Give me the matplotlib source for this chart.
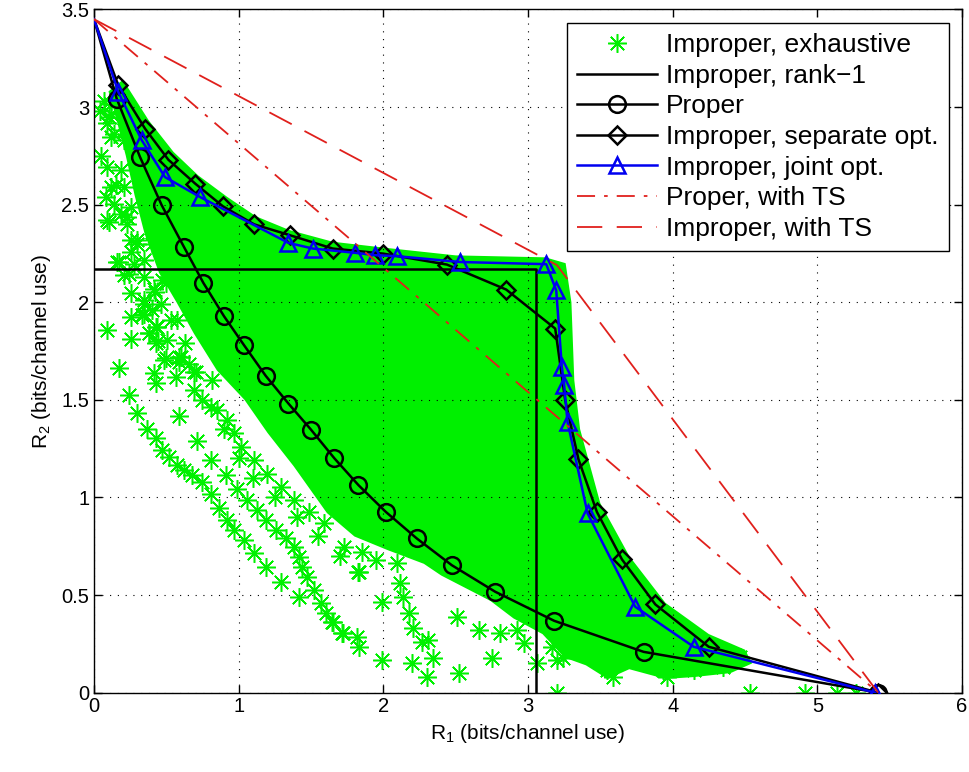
import numpy as np
import matplotlib
matplotlib.use('Agg')
from matplotlib import pyplot as plt
from matplotlib.ticker import FuncFormatter

plt.rcParams['font.family'] = ['Liberation Sans', 'DejaVu Sans']
plt.rcParams['mathtext.fontset'] = 'custom'
plt.rcParams['mathtext.rm'] = 'Liberation Sans'
plt.rcParams['mathtext.default'] = 'regular'

# ---- data ----
# rank-1 corner
rank1_r1 = [0.0, 3.055, 3.055]
rank1_r2 = [2.17, 2.17, 0.0]

# proper
proper_r1 = [0.0, 0.157, 0.318, 0.468, 0.622, 0.756, 0.899, 1.037, 1.187, 1.344, 1.499,
             1.662, 1.828, 2.017, 2.231, 2.473, 2.773, 3.181, 3.799, 5.42]
proper_r2 = [3.45, 3.043, 2.744, 2.497, 2.283, 2.099, 1.928, 1.780, 1.623, 1.481, 1.348,
             1.200, 1.063, 0.926, 0.790, 0.653, 0.517, 0.368, 0.209, 0.0]

# improper, separate opt.
sep_r1 = [0.0, 0.168, 0.353, 0.514, 0.699, 0.890, 1.107, 1.355, 1.650, 2.000, 2.439,
          2.849, 3.188, 3.257, 3.349, 3.476, 3.649, 3.880, 4.249, 5.42]
sep_r2 = [3.45, 3.111, 2.889, 2.730, 2.608, 2.492, 2.399, 2.343, 2.275, 2.249, 2.193,
          2.065, 1.865, 1.498, 1.195, 0.926, 0.683, 0.452, 0.235, 0.0]

# improper, joint opt.
joint_r1 = [0.0, 0.168, 0.330, 0.491, 0.733, 1.344, 1.512, 1.805, 1.943, 2.093, 2.531,
            3.126, 3.195, 3.234, 3.250, 3.273, 3.412, 3.741, 4.145, 5.40]
joint_r2 = [3.45, 3.077, 2.830, 2.641, 2.539, 2.304, 2.275, 2.253, 2.241, 2.236, 2.206,
            2.195, 2.061, 1.669, 1.575, 1.387, 0.918, 0.440, 0.235, 0.0]

# time sharing
pts_r1 = [0.0, 5.42]
pts_r2 = [3.45, 0.0]
its_r1 = [0.0, 3.20, 5.42]
its_r2 = [3.45, 2.19, 0.0]

# exhaustive search: outline of the dense cloud
dense_r1 = [0.10, 0.20, 0.38, 0.55, 0.72, 0.92, 1.12, 1.35, 1.65, 2.00, 2.50, 3.12, 3.26,
            3.30, 3.32, 3.36, 3.50, 3.70, 3.95, 4.25, 4.50, 4.55, 4.40, 4.15, 3.95, 3.70,
            3.55, 3.40, 3.25, 3.10, 2.90, 2.74, 2.40, 2.28, 2.03, 1.80, 1.61, 1.38, 1.20,
            1.04, 0.85, 0.69, 0.57, 0.45, 0.35, 0.28, 0.22, 0.15]
dense_r2 = [3.08, 3.14, 2.93, 2.77, 2.65, 2.54, 2.44, 2.37, 2.31, 2.28, 2.24, 2.23, 2.20,
            2.00, 1.60, 1.35, 0.97, 0.70, 0.46, 0.30, 0.22, 0.15, 0.10, 0.08, 0.07, 0.12,
            0.07, 0.14, 0.18, 0.30, 0.38, 0.47, 0.60, 0.66, 0.73, 0.80, 0.92, 1.16, 1.33,
            1.50, 1.65, 1.84, 2.00, 2.15, 2.35, 2.55, 2.75, 2.95]

# exhaustive search: scattered points around the cloud
exh_r1 = [0.07, 0.115, 0.092, 0.138, 0.207, 0.092, 0.185, 0.081, 0.254, 0.185, 0.092, 0.254,
          0.161, 0.277, 0.207, 0.346, 0.254, 0.346, 0.254, 0.346, 0.092, 0.254, 0.427, 0.53,
          0.173, 0.44, 0.484, 0.60, 0.692, 0.415, 0.04, 0.05, 0.15, 0.30, 0.40, 0.42, 0.50,
          0.104, 0.230, 0.30, 0.254, 0.173, 0.346, 0.242, 0.472, 0.415, 0.461, 0.334, 0.403,
          0.576, 0.38, 0.438, 0.427, 0.507, 0.588, 0.63, 0.657,
          0.115, 0.104, 0.115, 0.207, 0.115, 0.207, 0.138, 0.23,
          0.242, 0.30, 0.369, 0.427, 0.472, 0.519, 0.576, 0.622, 0.680, 0.749, 0.807, 0.865,
          0.922, 0.968, 1.037, 1.107, 1.187, 1.291,
          0.427, 0.588, 0.710, 0.811, 0.911, 0.987, 1.06, 1.13, 1.187, 1.256, 1.325, 1.383,
          1.418, 1.441, 1.475, 1.521, 1.568, 1.602, 1.648, 1.717, 1.821, 1.833, 1.418,
          0.346, 0.38, 0.496, 0.588, 0.565, 0.692, 0.703, 0.818, 0.807, 0.922, 0.968, 1.014,
          1.107, 1.198, 1.291, 1.383, 1.487, 1.59, 1.729, 1.833, 1.994, 1.994,
          0.75, 0.85, 0.90, 1.00, 1.10, 1.25, 1.40, 1.55, 1.70, 1.85, 1.95,
          1.828, 2.197, 2.346, 2.30, 2.52, 2.75, 3.2,
          2.093, 2.116, 2.139, 2.174, 2.208, 2.266, 2.31,
          2.508, 2.658, 2.808, 2.923, 2.969, 3.165, 3.2, 3.062,
          1.655, 1.72, 3.245, 3.545, 3.59, 3.935, 3.96, 4.145, 4.35, 4.468,
          4.537, 4.917, 5.136, 5.27]
exh_r2 = [3.03, 2.966, 2.916, 2.864, 2.83, 2.693, 2.676, 2.539, 2.488, 2.454, 2.42, 2.317,
          2.206, 2.198, 2.138, 2.13, 2.045, 2.01, 1.925, 1.942, 1.857, 1.814, 1.874, 1.908,
          1.661, 1.80, 1.703, 1.72, 1.643, 1.635, 2.98, 2.75, 2.60, 2.30, 2.30, 2.05, 2.10,
          2.411, 2.403, 2.317, 2.258, 2.206, 2.215, 2.147, 2.113, 2.07, 1.993, 1.933, 1.959,
          1.908, 1.84, 1.874, 1.789, 1.805, 1.72, 1.79, 1.686,
          3.018, 2.949, 2.846, 2.881, 2.59, 2.59, 2.505, 2.437,
          1.527, 1.43, 1.353, 1.302, 1.242, 1.208, 1.165, 1.140, 1.114, 1.080, 1.020, 0.944,
          0.884, 0.833, 0.781, 0.713, 0.645, 0.568,
          1.584, 1.416, 1.290, 1.191, 1.114, 1.041, 0.986, 0.935, 0.884, 0.833, 0.790, 0.747,
          0.696, 0.645, 0.593, 0.525, 0.457, 0.406, 0.363, 0.304, 0.286, 0.235, 0.491,
          1.993, 1.84, 1.712, 1.694, 1.618, 1.549, 1.643, 1.601, 1.464, 1.396, 1.328, 1.259,
          1.191, 1.122, 1.054, 0.986, 0.926, 0.867, 0.747, 0.619, 0.465, 0.167,
          1.50, 1.45, 1.35, 1.20, 1.10, 1.00, 0.90, 0.80, 0.70, 0.72, 0.68,
          0.619, 0.150, 0.176, 0.081, 0.099, 0.176, 0.0,
          0.662, 0.56, 0.491, 0.406, 0.329, 0.261, 0.27,
          0.389, 0.321, 0.304, 0.321, 0.252, 0.235, 0.167, 0.150,
          0.363, 0.304, 0.176, 0.116, 0.081, 0.116, 0.081, 0.116, 0.133, 0.184,
          0.0, 0.0, 0.0, 0.0]

green = '#00f000'
red = '#e0201c'
star = (8, 2, 0)

fig = plt.figure(figsize=(9.69, 7.72), dpi=100)
ax = fig.add_axes([0.097, 0.1028, 0.8958, 0.885])

ax.fill(dense_r1, dense_r2, color=green, lw=0, zorder=1)
ax.plot(exh_r1, exh_r2, linestyle='none', marker=star, markersize=13.5, mew=1.1,
        color=green, label='Improper, exhaustive', zorder=2)
ax.plot(rank1_r1, rank1_r2, color='k', lw=1.8, label='Improper, rank\u22121', zorder=3)
ax.plot(proper_r1, proper_r2, color='k', lw=1.8, marker='o', markersize=12, mew=1.8,
        mfc='none', markevery=list(range(1, len(proper_r1))), label='Proper', zorder=4)
ax.plot(sep_r1, sep_r2, color='k', lw=1.8, marker='D', markersize=9.5, mew=1.8,
        mfc='none', markevery=list(range(1, len(sep_r1))),
        label='Improper, separate opt.', zorder=5)
ax.plot(joint_r1, joint_r2, color='#0000f0', lw=1.8, marker='^', markersize=12, mew=1.8,
        mfc='none', markevery=list(range(1, len(joint_r1))),
        label='Improper, joint opt.', zorder=6)
ax.plot(pts_r1, pts_r2, color=red, lw=1.3, linestyle=(0, (10, 5, 2, 5)),
        label='Proper, with TS', zorder=7)
ax.plot(its_r1, its_r2, color=red, lw=1.3, linestyle=(0, (14, 8)),
        label='Improper, with TS', zorder=7)

ax.set_xlim(0, 6)
ax.set_ylim(0, 3.5)
ax.set_xticks(np.arange(0, 7, 1))
ax.set_yticks(np.arange(0, 3.51, 0.5))
fmt = FuncFormatter(lambda v, p: '%g' % v)
ax.xaxis.set_major_formatter(fmt)
ax.yaxis.set_major_formatter(fmt)
ax.tick_params(direction='in', top=True, right=True, length=6, width=1, labelsize=14.5)
ax.grid(True, color='k', linestyle=(0, (1, 6)), lw=0.8)
for s in ax.spines.values():
    s.set_linewidth(1.0)

ax.set_xlabel('R$_1$ (bits/channel use)', fontsize=15, labelpad=4)
ax.set_ylabel('R$_2$ (bits/channel use)', fontsize=15, labelpad=6)

leg = ax.legend(loc='upper right', fontsize=19, handlelength=3.0, handletextpad=0.35,
                labelspacing=0.25, borderaxespad=0.5, fancybox=False, framealpha=1,
                edgecolor='k', borderpad=0.4)
leg.get_frame().set_linewidth(1.0)

plt.savefig('out.png', dpi=100)
plt.close()
